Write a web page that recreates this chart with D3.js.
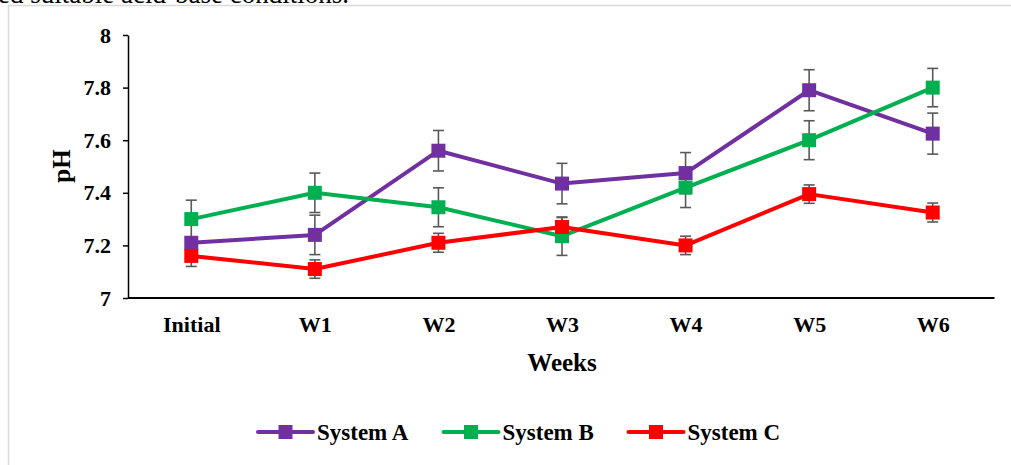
<!DOCTYPE html>
<html>
<head>
<meta charset="utf-8">
<script src="https://cdn.jsdelivr.net/npm/d3@7/dist/d3.min.js"></script>
<style>
  html, body { margin: 0; padding: 0; background: #fff; }
  svg { display: block; font-family: "Liberation Serif", "Times New Roman", serif; }
</style>
</head>
<body>
<svg id="chart" width="1011" height="465"></svg>
<script>
// Sampling weeks
const weeks = ["Initial", "W1", "W2", "W3", "W4", "W5", "W6"];

// Mean pH per system
const systemA = [7.21, 7.24, 7.56, 7.435, 7.475, 7.79, 7.625];
const systemB = [7.30, 7.40, 7.345, 7.235, 7.42, 7.60, 7.80];
const systemC = [7.16, 7.11, 7.21, 7.27, 7.20, 7.395, 7.325];

// Standard deviations
const errA = [0.02, 0.075, 0.077, 0.077, 0.078, 0.078, 0.078];
const errB = [0.072, 0.075, 0.074, 0.073, 0.076, 0.074, 0.073];
const errC = [0.04, 0.035, 0.036, 0.036, 0.035, 0.035, 0.036];

const yTicks = [7, 7.2, 7.4, 7.6, 7.8, 8];

const seriesNames = ["System A", "System B", "System C"];
const seriesColors = ["#7030A0", "#00B050", "#FF0000"];

const series = [
  { name: seriesNames[0], color: seriesColors[0], values: systemA, errs: errA },
  { name: seriesNames[1], color: seriesColors[1], values: systemB, errs: errB },
  { name: seriesNames[2], color: seriesColors[2], values: systemC, errs: errC }
];

const svg = d3.select("#chart");

// page fragment and frame around the figure
svg.append("text")
  .attr("x", -2).attr("y", 3)
  .attr("font-size", 27).attr("fill", "#000")
  .text("ed suitable acid-base conditions.");
svg.append("rect")
  .attr("x", 8.5).attr("y", 5.5).attr("width", 1020).attr("height", 480)
  .attr("fill", "none").attr("stroke", "#d9d9d9").attr("stroke-width", 1.5);

const x = d3.scalePoint().domain(weeks).range([129.5, 994.5]).padding(0.5);
const y = d3.scaleLinear().domain([7, 8]).range([298, 35]);

// Y axis
const yAxis = svg.append("g")
  .attr("transform", "translate(128,0)")
  .call(d3.axisLeft(y).tickValues(yTicks).tickSize(5).tickSizeOuter(0).tickPadding(12)
    .tickFormat(d3.format("~g")));
yAxis.select(".domain").attr("stroke", "#000").attr("stroke-width", 1.5);
yAxis.selectAll(".tick line").attr("stroke", "#000").attr("stroke-width", 1.5);
yAxis.selectAll(".tick text")
  .attr("font-family", "Liberation Serif, Times New Roman, serif")
  .attr("font-size", 22).attr("font-weight", "bold").attr("fill", "#000");

// X axis (no tick marks)
const xAxis = svg.append("g")
  .attr("transform", "translate(0,298)")
  .call(d3.axisBottom(x).tickSize(0).tickSizeOuter(0).tickPadding(18));
xAxis.select(".domain").attr("stroke", "#000").attr("stroke-width", 2)
  .attr("d", "M128,0H994.5");
xAxis.selectAll(".tick text")
  .attr("font-family", "Liberation Serif, Times New Roman, serif")
  .attr("font-size", 22).attr("font-weight", "bold").attr("fill", "#000");

// Axis titles
svg.append("text")
  .attr("x", 562).attr("y", 371)
  .attr("text-anchor", "middle")
  .attr("font-size", 25).attr("font-weight", "bold")
  .text("Weeks");
svg.append("text")
  .attr("transform", "translate(70,166) rotate(-90)")
  .attr("text-anchor", "middle")
  .attr("font-size", 25).attr("font-weight", "bold")
  .text("pH");

const line = d3.line().x((d, i) => x(weeks[i])).y(d => y(d));
const capW = 5.5;
const markerSize = 14;

series.forEach(s => {
  const g = svg.append("g");
  // error bars
  const eb = g.selectAll(".err").data(s.values).join("g").attr("class", "err")
    .attr("stroke", "#595959").attr("stroke-width", 1.6).attr("fill", "none");
  eb.append("line")
    .attr("x1", (d, i) => x(weeks[i])).attr("x2", (d, i) => x(weeks[i]))
    .attr("y1", (d, i) => y(d - s.errs[i])).attr("y2", (d, i) => y(d + s.errs[i]));
  eb.append("line")
    .attr("x1", (d, i) => x(weeks[i]) - capW).attr("x2", (d, i) => x(weeks[i]) + capW)
    .attr("y1", (d, i) => y(d + s.errs[i])).attr("y2", (d, i) => y(d + s.errs[i]));
  eb.append("line")
    .attr("x1", (d, i) => x(weeks[i]) - capW).attr("x2", (d, i) => x(weeks[i]) + capW)
    .attr("y1", (d, i) => y(d - s.errs[i])).attr("y2", (d, i) => y(d - s.errs[i]));
});

series.forEach(s => {
  const g = svg.append("g");
  g.append("path").datum(s.values)
    .attr("d", line).attr("fill", "none")
    .attr("stroke", s.color).attr("stroke-width", 4).attr("stroke-linejoin", "round");
  g.selectAll("rect").data(s.values).join("rect")
    .attr("x", (d, i) => x(weeks[i]) - markerSize / 2)
    .attr("y", d => y(d) - markerSize / 2)
    .attr("width", markerSize).attr("height", markerSize)
    .attr("fill", s.color);
});

// Legend
const legendX = [258, 443.5, 628.5];
const legendY = 432;
series.forEach((s, i) => {
  const g = svg.append("g").attr("transform", `translate(${legendX[i]},${legendY})`);
  g.append("line").attr("x1", 0).attr("x2", 55).attr("y1", 0).attr("y2", 0)
    .attr("stroke", s.color).attr("stroke-width", 4).attr("stroke-linecap", "round");
  g.append("rect").attr("x", 27.5 - 7).attr("y", -7).attr("width", 14).attr("height", 14)
    .attr("fill", s.color);
  g.append("text").attr("x", 59).attr("y", 8)
    .attr("font-size", 23).attr("font-weight", "bold").attr("fill", "#000")
    .text(s.name);
});
</script>
</body>
</html>
